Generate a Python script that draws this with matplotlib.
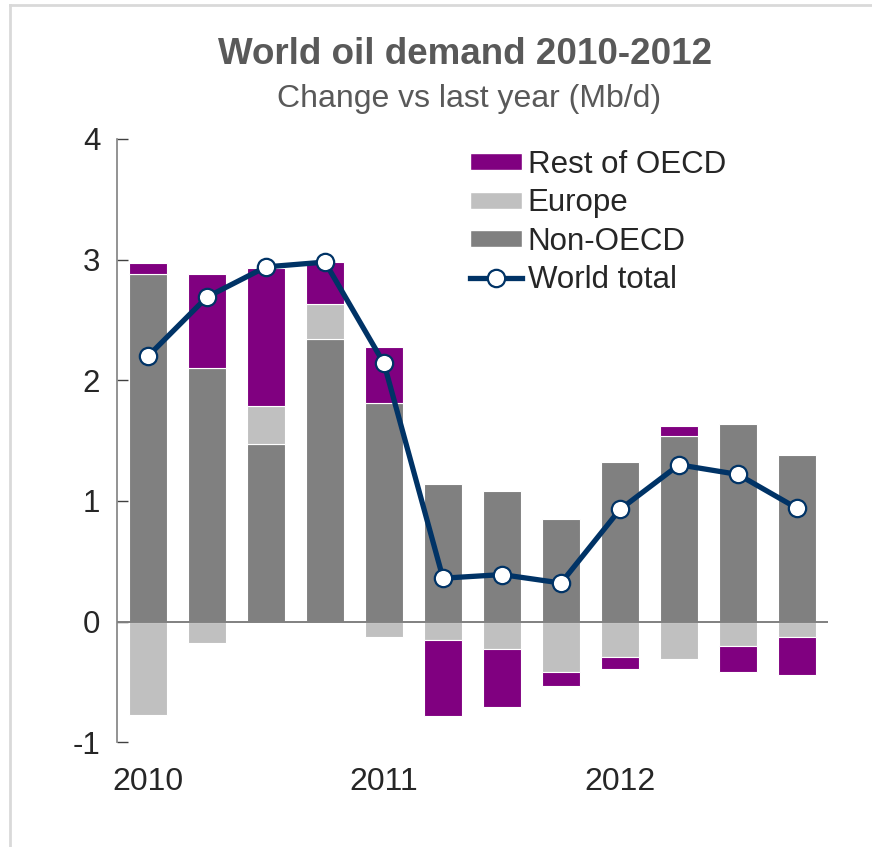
import matplotlib.pyplot as plt
from matplotlib.lines import Line2D
from matplotlib.patches import Patch

plt.rcParams['font.family'] = ['Liberation Sans', 'DejaVu Sans']

# quarterly change vs last year, Mb/d (2010 Q1 .. 2012 Q4)
quarters = ['2010', '', '', '', '2011', '', '', '', '2012', '', '', '']
non_oecd = [2.88, 2.10, 1.47, 2.34, 1.81, 1.14, 1.085, 0.85, 1.32, 1.54, 1.635, 1.385]
europe = [-0.775, -0.176, 0.32, 0.29, -0.126, -0.148, -0.23, -0.416, -0.29, -0.31, -0.20, -0.13]
rest_oecd = [0.09, 0.78, 1.14, 0.35, 0.47, -0.63, -0.476, -0.12, -0.10, 0.08, -0.215, -0.315]
world = [2.20, 2.69, 2.94, 2.98, 2.14, 0.36, 0.39, 0.32, 0.93, 1.30, 1.22, 0.94]

c_non = '#808080'
c_eur = '#C0C0C0'
c_rest = '#800080'
c_line = '#003366'
c_text = '#595959'

fig = plt.figure(figsize=(8.72, 8.47), dpi=100)
ax = fig.add_axes([0.1342, 0.1236, 0.8153, 0.7123])

x = list(range(len(non_oecd)))

# stack positives upward and negatives downward from zero
pos = [0.0] * len(x)
neg = [0.0] * len(x)
for vals, col in [(non_oecd, c_non), (europe, c_eur), (rest_oecd, c_rest)]:
    bottoms = []
    for i, v in enumerate(vals):
        if v >= 0:
            bottoms.append(pos[i])
            pos[i] += v
        else:
            bottoms.append(neg[i])
            neg[i] += v
    ax.bar(x, vals, bottom=bottoms, width=0.66, color=col,
           edgecolor='white', linewidth=0.8, zorder=2)

ax.plot(x, world, color=c_line, lw=3.8, marker='o', ms=12.5,
        mfc='white', mec=c_line, mew=1.6, zorder=4)

ax.axhline(0, color='#808080', lw=1.4, zorder=3)

ax.set_xlim(-0.525, 11.525)
ax.set_ylim(-1, 4)
ax.set_yticks([-1, 0, 1, 2, 3, 4])
ax.set_yticklabels(['-1', '0', '1', '2', '3', '4'])
ax.set_xticks(x)
ax.set_xticklabels(quarters)

for s in ['top', 'right', 'bottom']:
    ax.spines[s].set_visible(False)
ax.spines['left'].set_color('#808080')
ax.spines['left'].set_linewidth(1.2)

ax.tick_params(axis='y', direction='in', length=8, width=1, color='#404040',
               labelsize=22.5, labelcolor='#262626', pad=12)
ax.tick_params(axis='x', length=0, labelsize=23, labelcolor='#262626', pad=18)

fig.text(0.533, 0.936, 'World oil demand 2010-2012', ha='center', va='center',
         fontsize=26.5, fontweight='bold', color=c_text)
fig.text(0.538, 0.883, 'Change vs last year (Mb/d)', ha='center', va='center',
         fontsize=23, color=c_text)

handles = [
    Patch(facecolor=c_rest, edgecolor='white'),
    Patch(facecolor=c_eur, edgecolor='white'),
    Patch(facecolor=c_non, edgecolor='white'),
    Line2D([], [], color=c_line, lw=3.8, marker='o', ms=12.5,
           mfc='white', mec=c_line, mew=1.6),
]
labels = ['Rest of OECD', 'Europe', 'Non-OECD', 'World total']
leg = fig.legend(handles, labels, loc='upper left', bbox_to_anchor=(0.539, 0.823),
                 frameon=False, fontsize=22.5, handlelength=1.65, handleheight=0.45,
                 handletextpad=0.2, labelspacing=0.27, borderpad=0, borderaxespad=0)
for t in leg.get_texts():
    t.set_color('#262626')

# light frame along the top and left edge
fig.add_artist(Line2D([10 / 872, 1], [1 - 5 / 847, 1 - 5 / 847],
                      transform=fig.transFigure, color='#D9D9D9', lw=2))
fig.add_artist(Line2D([10 / 872, 10 / 872], [0, 1 - 5 / 847],
                      transform=fig.transFigure, color='#D9D9D9', lw=2))

fig.savefig('out.png', dpi=100)
